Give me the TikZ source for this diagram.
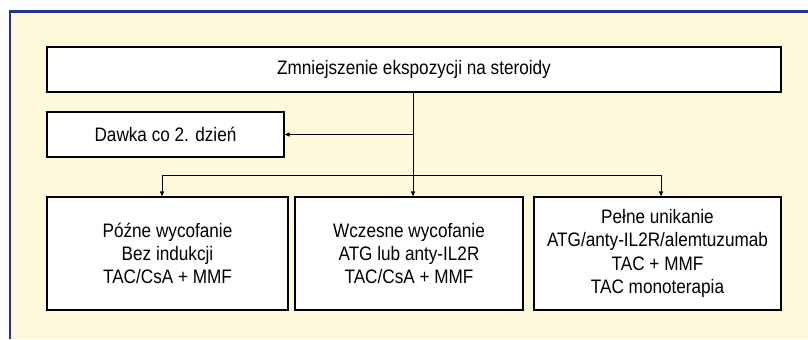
\documentclass[tikz,border=0pt]{standalone}
\usepackage{fontspec}
\setmainfont{Liberation Sans}[FakeStretch=0.88]
\usetikzlibrary{arrows.meta}
\definecolor{bgyellow}{RGB}{255,249,219}
\definecolor{frameblue}{RGB}{39,52,139}
\tikzset{
  box/.style={draw=black, line width=1.2bp, fill=white, inner sep=0pt, align=center,
    font=\fontsize{19.5bp}{23.3bp}\selectfont},
  conn/.style={draw=black, line width=1bp},
  arr/.style={conn, -{Triangle[length=5bp,width=4bp]}}
}
\begin{document}
\begin{tikzpicture}[x=1bp,y=-1bp]
\useasboundingbox (0,0) rectangle (808,339);
\fill[bgyellow] (9.7,11.3) rectangle (808,339);
\draw[frameblue, line width=2.4bp] (9.7,339) -- (9.7,11.3) -- (808,11.3);

\node[box, minimum width=734bp, minimum height=45bp] (top) at (414,69.5) {Zmniejszenie ekspozycji na steroidy};
\node[box, minimum width=237bp, minimum height=45bp] (dawka) at (165.5,134.5) {Dawka co 2. dzień};
\node[box, minimum width=241bp, minimum height=113bp] (b1) at (167.5,253.5) {Późne wycofanie\\Bez indukcji\\TAC/CsA + MMF};
\node[box, minimum width=228bp, minimum height=113bp] (b2) at (409,253.5) {Wczesne wycofanie\\ATG lub anty-IL2R\\TAC/CsA + MMF};
\node[box, minimum width=247bp, minimum height=113bp] (b3) at (657.5,253.5) {Pełne unikanie\\ATG/anty-IL2R/alemtuzumab\\TAC + MMF\\TAC monoterapia};

\coordinate (trunk) at (413,134.5);
\coordinate (hl) at (162,175);
\coordinate (hr) at (661,175);

\draw[arr] (top.south -| trunk) -- (b2.north -| trunk);
\draw[arr] (trunk) -- (dawka.east);
\draw[conn] (hl) -- (hr);
\draw[arr] (hl) -- (b1.north -| hl);
\draw[arr] (hr) -- (b3.north -| hr);
\end{tikzpicture}
\end{document}
